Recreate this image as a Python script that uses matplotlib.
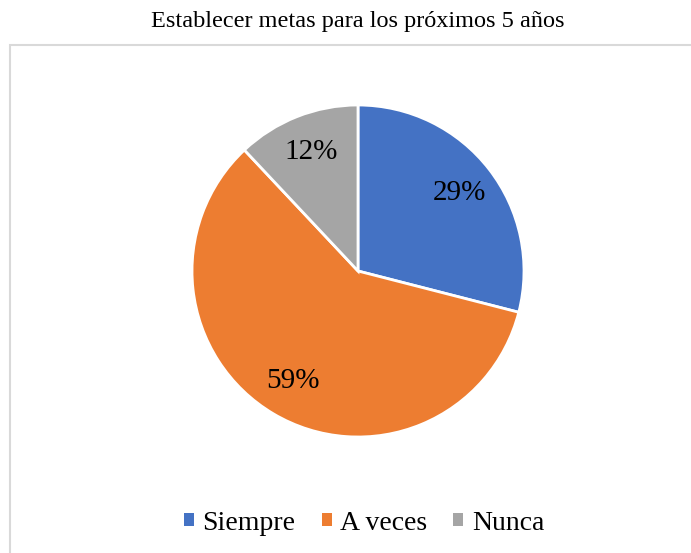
import matplotlib.pyplot as plt
from matplotlib.patches import Rectangle, Patch

categories = ['Siempre', 'A veces', 'Nunca']
values = [29, 59, 12]
colors = ['#4472C4', '#ED7D31', '#A5A5A5']

W, H = 691, 553
fig = plt.figure(figsize=(W / 100, H / 100), dpi=100)
plt.rcParams['font.family'] = ['Liberation Serif', 'DejaVu Serif']

# chart border
fig.patches.append(Rectangle((10 / W, -0.01), 0.99, (H - 45) / H + 0.01,
                             transform=fig.transFigure, fill=False,
                             edgecolor='#d9d9d9', linewidth=1.5))

fig.text(358 / W, 1 - 21 / H, 'Establecer metas para los próximos 5 años',
         ha='center', va='center', fontsize=17.5)

cx, cy, r = 358, 271, 166
ax = fig.add_axes([(cx - r) / W, (H - cy - r) / H, 2 * r / W, 2 * r / H])
wedges, texts, autotexts = ax.pie(values, colors=colors, startangle=90, counterclock=False,
                                  autopct='%1.0f%%', pctdistance=0.77,
                                  wedgeprops=dict(edgecolor='white', linewidth=2),
                                  textprops=dict(fontsize=21, color='black'))
ax.set_xlim(-1, 1)
ax.set_ylim(-1, 1)
ax.set_aspect('equal')
ax.axis('off')

handles = [Patch(facecolor=c, edgecolor='none') for c in colors]
fig.legend(handles, categories, loc='center', bbox_to_anchor=(364 / W, 1 - 523 / H),
           ncol=3, frameon=False, fontsize=20, handlelength=0.36, handleheight=0.36,
           handletextpad=0.3, columnspacing=0.95)

plt.savefig('out.png', dpi=100)
plt.close()
